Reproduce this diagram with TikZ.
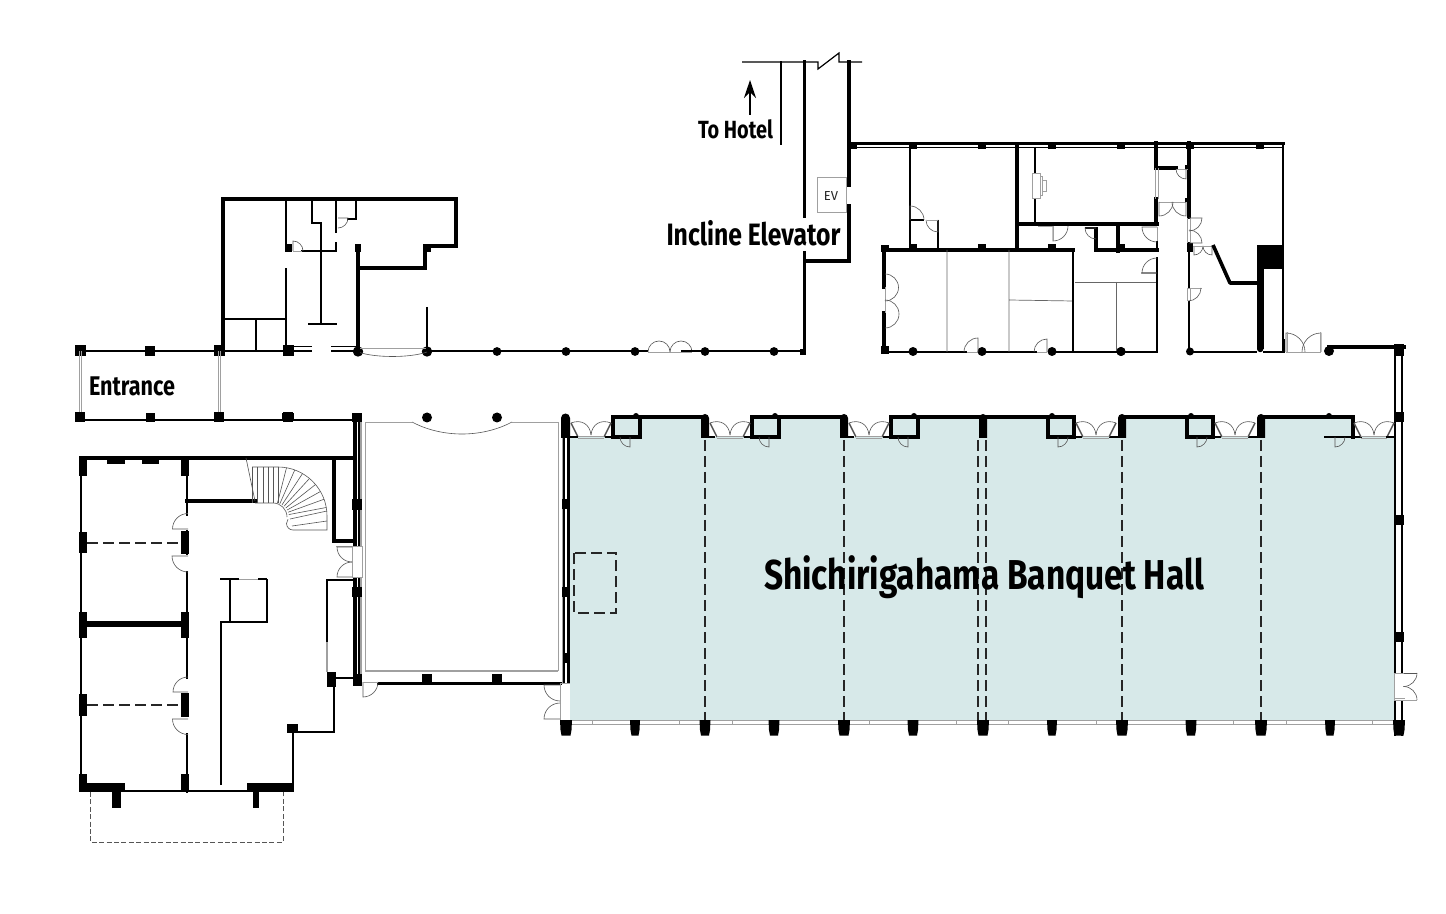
\documentclass[tikz,border=0pt]{standalone}
\usepackage{fontspec}
\setmainfont{Fira Sans}[FakeStretch=0.8]
\usetikzlibrary{arrows.meta,calc}
\definecolor{hall}{HTML}{D7E9E9}
\definecolor{grayl}{HTML}{A0A0A0}
\definecolor{doorc}{HTML}{555555}
\tikzset{
 la/.style={draw=black,line width=.6pt},
 lb/.style={draw=black,line width=1pt},
 lc/.style={draw=black,line width=1.4pt,line cap=rect},
 ld/.style={draw=black,line width=1.9pt,line cap=rect},
 gr/.style={draw=grayl,line width=.45pt},
 grt/.style={draw=grayl,line width=.9pt},
 doorl/.style={draw=doorc,line width=.3pt},
 dashw/.style={draw=black!85,line width=.8pt,dash pattern=on 5.5pt off 2.5pt},
 label/.style={inner sep=0pt,text=black,font=\bfseries},
}
% door: centre x, centre y, leaf angle, closing angle, radius (angles clockwise on the page)
\newcommand\dor[5]{\draw[doorl] (#1,#2) -- ++(#3:#5) arc (#3:#4:#5);}
\newcommand\blk[4]{\fill[black] (#1,#2) rectangle (#3,#4);}
\newcommand\sq[3]{\fill[black] (#1-#3/2,#2-#3/2) rectangle (#1+#3/2,#2+#3/2);}
\newcommand\rnd[3]{\fill[black] (#1,#2) circle (#3);}
\newcommand\ddoor[1]{%
 \draw[doorl] (#1-20,423) .. controls (#1-10,419) and (#1-1,424) .. (#1,435);
 \draw[doorl] (#1+20,423) .. controls (#1+10,419) and (#1+1,424) .. (#1,435);
 \draw[draw=doorc,line width=.7pt] (#1-20,423) -- (#1-13,437);
 \draw[draw=doorc,line width=.7pt] (#1+20,423) -- (#1+13,437);
 \draw[gr] (#1-13,436.5) -- (#1+13,436.5);
 \draw[gr] (#1-13,438) -- (#1+13,438);
}
\newcommand\hcol[1]{%
 \fill[black] (#1-4,438) -- (#1-4,418) arc (180:360:4) -- (#1+4,438) -- cycle;}
\newcommand\bcol[2]{\fill[black] (#1-#2,720) -- (#1+#2,720) -- (#1+#2-.5,730) -- (#1+#2-1.5,735.5) -- (#1-#2+1.5,735.5) -- (#1-#2+.5,730) -- cycle;}
\begin{document}
\begin{tikzpicture}[x=.5pt,y=.5pt,yscale=-1]
\useasboundingbox (0,0) rectangle (1446,914);
\fill[white] (0,0) rectangle (1446,914);
% ---------- hall fill
\fill[hall] (570,437) rectangle (1394,720);
\foreach \X in {566,705,844} \fill[hall] (\X+47,418) rectangle (\X+139,437);
\foreach \X in {983,1122,1261} \fill[hall] (\X,418) rectangle (\X+92,437);
% ---------- corridor north wall
\draw[lb] (80,351) -- (293,351);
\draw[la] (293,346.5) -- (312,346.5) (293,351) -- (312,351);
\draw[la] (331,346.5) -- (358,346.5) (331,351) -- (358,351);
\draw[lb] (427,351) -- (648,351);
\draw[gr] (648,352) -- (692,352);
\draw[doorl] (648,352) arc (180:360:11);
\draw[doorl] (670,352) arc (180:360:11);
\draw[lb] (692,351.5) -- (805,351.5);
\blk{681}{350}{692}{352.5}
\foreach \x/\s in {80/11,150/10,219/11,288/11} {\sq{\x}{351}{\s}}
\foreach \x/\r in {358/5.2,427/5.2,497/4.4,566/4.4,635/4.4,705/4.4,774/4.4} {\rnd{\x}{351.5}{\r}}
\blk{800}{349}{806}{355}
\draw[gr] (358,348) -- (427,348);
\draw[doorl] (358,352) .. controls (375,358) and (410,358) .. (427,352);
\draw[lb] (427,307) -- (427,351);
% entrance
\draw[gr] (79,351) -- (79,420) (81.5,351) -- (81.5,420);
\draw[gr] (218,351) -- (218,420) (220.5,351) -- (220.5,420);
\draw[lb] (80,420) -- (354,420);
\foreach \x/\s in {80/10,150/9,219/10,288/10} {\sq{\x}{417.5}{\s}}
\blk{282}{413}{294}{421}
\blk{352}{413}{362}{422}
\node[label] (entrance) at (132,386) {\resizebox{43pt}{!}{\fontsize{11}{12}\selectfont Entrance}};
% ---------- top-left building
\draw[ld] (223,351) -- (223,199) -- (456,199) -- (456,246) -- (425,246) -- (425,268) -- (358,268);
\draw[ld] (358,249) -- (358,351);
\blk{355}{244.5}{361}{252}
\blk{424}{245}{431}{252}
\draw[lc] (286,199) -- (286,250);
\blk{284.5}{244}{292}{252}
\draw[lc] (286,269) -- (286,351);
\draw[lc] (223,319) -- (286,319);
\draw[lc] (256,319) -- (256,351);
\draw[lb] (312,199) -- (312,223) -- (321,223);
\draw[lc] (321,223) -- (321,324);
\draw[lc] (309,324) -- (336,324);
\draw[lc] (302,251) -- (336,251) -- (336,243);
\draw[lc] (336,199) -- (336,232);
\draw[lc] (356,199) -- (356,219) -- (348,219);
\draw[gr] (293,251) -- (302,251);
\dor{293}{251}{270}{360}{10}
\dor{338}{218}{0}{90}{10}
% ---------- To Hotel and elevator shaft
\draw[la] (742,62) -- (818,62) -- (818,69) -- (839,53) -- (839,62) -- (862,62);
\draw[lc] (781,62) -- (781,144);
\draw[ld] (804.5,62) -- (804.5,216);
\draw[ld] (804.5,253) -- (804.5,352);
\draw[ld] (849,62) -- (849,185);
\draw[ld] (849,206) -- (849,261) -- (807,261);
\draw[line width=.7pt,-{Stealth[length=9pt,width=6pt]}] (750,115) -- (750,80);
\draw[grayl,line width=.5pt] (817,178) rectangle (846,213);
\node[inner sep=0pt,text=black!85] (ev) at (831,196) {\fontsize{6.5}{7}\selectfont\addfontfeature{FakeStretch=1}EV};
\node[label] (tohotel) at (735.5,129.5) {\resizebox{37.5pt}{!}{\fontsize{11}{12}\selectfont To Hotel}};
\node[label] (incline) at (753.5,233.5) {\resizebox{87pt}{!}{\fontsize{13}{14}\selectfont Incline Elevator}};
% ---------- north-east block
\draw[ld] (849,143.5) -- (1283,143.5);
\draw[la] (849,147.5) -- (1283,147.5);
\foreach \x in {853,913,982,1052,1121,1190,1260} {\blk{\x-4}{143}{\x+4}{149}}
\draw[lc] (1283,143) -- (1283,352);
\draw[lb] (910,147) -- (910,250);
\draw[lb] (910,220) -- (924,220);
\draw[lb] (938,220) -- (938,250);
\draw[gr] (927,220) -- (938,220);
\dor{910}{220}{270}{360}{14}
\dor{938}{220}{90}{180}{12}
\draw[ld] (884,250) -- (1073,250);
\foreach \x in {913,982,1052,1121} {\blk{\x-4}{244}{\x+4}{250}}
\blk{881}{245}{889}{252}
\blk{881}{346}{889}{354}
\draw[ld] (884,250) -- (884,287);
\draw[ld] (884,313) -- (884,352);
\draw[gr] (885,287) -- (885,313);
\draw[doorl] (885,274) arc (270:450:13.5);
\draw[doorl] (885,300) arc (270:450:14);
\draw[lb] (884,352) -- (967,352);
\draw[gr] (967,352) -- (978,352);
\draw[lb] (982,352) -- (1037,352);
\draw[gr] (1037,352) -- (1047,352);
\draw[lb] (1050,352) -- (1157,352);
\foreach \x in {913,982,1052,1121} {\rnd{\x}{351.5}{4.5}}
\dor{978}{352}{270}{180}{14}
\dor{1047}{352}{270}{180}{13}
\draw[draw=black!60,line width=.35pt] (947,250) -- (947,352) (1009,250) -- (1009,352) (1009,300) -- (1073,301);
\draw[draw=black!60,line width=.35pt] (1075,282) -- (1157,282) (1116,282) -- (1116,351);
\draw[lc] (1073,250) -- (1073,351);
\draw[ld] (1017,147) -- (1017,250);
\draw[ld] (1017,224) -- (1157,224);
\draw[lb] (1035,147) -- (1035,224);
\fill[white] (1032,173) rectangle (1040,198);
\draw[gr] (1032,173) rectangle (1040,198) (1042,180) rectangle (1046,191) (1040,176) -- (1042,176) -- (1042,195) -- (1040,195);
\draw[ld] (1156,143) -- (1156,168) -- (1176,168);
\draw[ld] (1156,199) -- (1156,224);
\draw[ld] (1118,224) -- (1118,251);
\draw[ld] (1096,250) -- (1157,250);
\draw[ld] (1096,250) -- (1096,229);
\draw[lb] (1085,228) -- (1096,228);
\draw[gr] (1157,227) -- (1157,242);
\draw[lc] (1157,242) -- (1157,250);
\draw[lc] (1157,258) -- (1157,272);
\draw[grt] (1141,273) -- (1157,273);
\draw[lc] (1157,273) -- (1157,352);
\blk{1116.5}{245}{1125}{251}
\dor{1157}{227}{180}{90}{15}
\dor{1157}{273}{180}{270}{15}
\dor{1053}{226}{90}{0}{15}
\dor{1096}{228}{180}{90}{11}
\draw[gr] (1038,226) -- (1053,226) (1053,226) -- (1053,240);
\rnd{1121}{351.5}{4.5}
% service block east
\draw[ld] (1189,143) -- (1189,217);
\draw[gr] (1188,169) -- (1176,169);
\draw[gr] (1187,218) -- (1187,243) (1190,218) -- (1190,243);
\draw[lc] (1189,243) -- (1189,352);
\blk{1187}{243}{1193}{252}
\blk{1185}{165}{1191}{169}
\blk{1185}{198}{1191}{202}
\draw[gr] (1159,202) -- (1186,202);
\draw[gr] (1155,168) -- (1155,199) (1158,168) -- (1158,199);
\dor{1186}{169}{90}{180}{10}
\dor{1159}{202}{90}{0}{14}
\dor{1186}{202}{90}{180}{14}
\dor{1189}{218}{0}{90}{13}
\dor{1189}{243}{0}{-90}{13}
\dor{1194}{246}{90}{0}{9}
\dor{1212}{246}{90}{180}{9}
\draw[gr] (1193,246) -- (1213,246);
\fill[white] (1187,288) rectangle (1191,301);
\draw[gr] (1187.5,288) -- (1187.5,301) (1190.5,288) -- (1190.5,301) (1187,288) -- (1202,288);
\draw[doorl] (1188,301) arc (90:0:13);
\draw[la] (1190,352) -- (1257,352);
\rnd{1190}{351.5}{4}
\draw[line width=1.8pt,line join=bevel] (1213,245) -- (1230,283) -- (1257,283);
\blk{1257}{245}{1283}{269}
\fill[black] (1257,245) rectangle (1263.5,349);
\fill[black] (1260.2,349) circle (3.2);
\draw[la] (1263,352) -- (1283,352);
\draw[lc] (1283.5,340) -- (1283.5,352);
\dor{1286}{352}{270}{360}{19}
\dor{1321}{352}{270}{180}{19}
\draw[gr] (1286,352) -- (1321,352) (1287,352) -- (1287,332) (1320,352) -- (1320,332);
% ---------- east wall
\rnd{1329}{351}{5}
\draw[ld] (1329,347) -- (1404,347);
\draw[lc] (1395,347) -- (1395,672);
\draw[lc] (1402,347) -- (1402,672);
\draw[lc] (1395,701) -- (1395,735);
\draw[lc] (1402,701) -- (1402,735);
\blk{1393.5}{344}{1404}{356}
\foreach \y in {417,520,637} {\blk{1393.5}{\y-5}{1404}{\y+5}}
\draw[gr] (1394,673) -- (1394,700) -- (1417,700) (1394,673) -- (1404,673) (1394,698) -- (1405,698);
\draw[doorl] (1404,673) -- (1417,673);
\draw[doorl] (1417,673) arc (0:90:13.5);
\draw[doorl] (1417,700) arc (0:-90:13.5);
% ---------- lobby
\draw[gr] (412,422) -- (365,422) -- (365,671) (558,671) -- (558,422) -- (512,422);
\draw[grt] (365,671) -- (558,671);
\draw[doorl] (412,422) .. controls (442,438) and (482,438) .. (512,422);
\rnd{427}{417.5}{5}
\rnd{497}{417.5}{5}
\draw[lc] (378,683.5) -- (561,683.5);
\blk{422}{674}{432}{683}
\blk{492}{674}{502}{683}
\dor{363}{682}{90}{0}{15}
\draw[gr] (363,682) -- (378,682);
% west wall of lobby
\foreach \a/\b in {422/546,577/676} {
 \fill[black] (352.5,\a) rectangle (356.5,\b);
 \fill[black] (357.5,\a) rectangle (359.5,\b);
 \draw[grt] (361,\a) -- (361,\b);
}
\blk{352}{499}{362}{510}
\blk{352}{587}{362}{597}
\blk{352.5}{674}{362}{686}
% ---------- lower-left building
\draw[ld] (81,458) -- (354,458);
\draw[lc] (81,458) -- (81,790);
\draw[lc] (80,791) -- (293,791);
\foreach \a/\b in {458/515,531/554,572/678,734/792} {\draw[lc] (187,\a) -- (187,\b);}
\blk{79}{458}{87}{476}
\blk{107}{458}{125}{464}
\blk{142}{458}{159}{464}
\blk{79}{532}{87}{553}
\blk{79}{612}{87}{638}
\blk{79}{694}{87}{716}
\blk{79}{774}{87}{792}
\blk{181}{458}{189}{476}
\blk{181}{531}{189}{554}
\blk{181}{612}{189}{638}
\blk{181}{693}{189}{717}
\blk{181}{774}{189}{792}
\blk{79}{783}{125}{792}
\blk{247}{783}{293}{792}
\blk{112}{792}{121}{808}
\blk{253}{792}{259}{808}
\draw[doorl,dash pattern=on 2.5pt off 1.2pt] (90,792) -- (90,842) -- (283,842) -- (283,792);
\draw[dashw] (87,543) -- (181,543);
\draw[dashw] (87,705) -- (181,705);
\draw[line width=3pt] (87,624) -- (181,624);
\dor{188}{529}{180}{270}{15.5}
\dor{188}{556}{180}{90}{16}
\dor{188}{692}{180}{270}{15}
\dor{188}{719}{180}{90}{15.5}
\draw[ld] (187,501) -- (255,501);
% stair
\draw[doorl] (246,458) -- (255,501);
\draw[doorl] (252,467) -- (278,467) arc (-90:0:49) -- (327,530) -- (293,530) arc (90:220:6.5);
\draw[doorl] (255,503) -- (273,503) arc (-90:0:14) -- (287,517);
\foreach \x in {252,257,263,268,273,278} {\draw[doorl] (\x,467) -- (\x,503);}
\foreach \a in {-80,-70,...,-10} {\draw[doorl] ($(275,517)+(\a:14)$) -- ($(278,516)+(\a:49)$);}
\draw[doorl] (290,519) -- (327,511);
\draw[doorl] (292,526) -- (327,521);
\draw[ld] (334,458) -- (334,541) -- (354,541);
\draw[gr] (336,546) -- (352,546) (352,546) rectangle (362,577);
\dor{352}{547}{180}{90}{15}
\dor{352}{577}{180}{270}{15}
\draw[lc] (327,642) -- (327,580) -- (353,580);
\draw[grt] (327,642) -- (327,672);
\blk{326.5}{672}{336}{687}
\draw[lc] (336,678) -- (354,678);
\draw[lc] (334,687) -- (334,732) -- (293,732) -- (293,791);
\blk{287}{724}{298}{733}
\draw[lb] (221,785) -- (221,622) -- (267,622) -- (267,579);
\draw[la] (230,579) -- (230,622);
\draw[la] (220,579) -- (239,579) (258,579) -- (267,579);
\draw[gr] (239,579) -- (258,579);
% ---------- hall
\draw[line width=.9pt,draw=black] (564,438) -- (564,683);
\fill[black] (566.5,438) rectangle (570,683);
\draw[gr] (562,438) -- (562,683);
\blk{561.5}{499}{570}{509}
\blk{561.5}{587}{570}{597}
\blk{564}{653}{570}{663}
\fill[black] (561,438) -- (561,418) arc (180:360:4.5) -- (570,438) -- cycle;
\draw[gr] (560,683) -- (570,683) (560,683) -- (560,720) -- (570,720);
\dor{560}{685}{180}{90}{16}
\dor{560}{719}{180}{270}{16}
\foreach \X in {566,705,844} {
 \draw[ld] (\X+139,417) -- (\X+47,417) -- (\X+47,437) -- (\X+74,437) -- (\X+74,417);
 \draw[lc] (\X+40,437) -- (\X+47,437);
 \fill[black] (\X+70,416) circle (3);
 \ddoor{\X+25}
 \dor{\X+64}{437}{90}{180}{10}
}
\foreach \X in {705,844,983,1122,1261} {\hcol{\X}}
\foreach \X in {705,844} {\draw[lc] (\X,437) -- (\X+9,437);}
\draw[lc] (570,437) -- (577,437);
\foreach \X in {983,1122} {
 \draw[ld] (\X,417) -- (\X+91,417) -- (\X+91,437) -- (\X+65,437) -- (\X+65,417);
 \draw[lc] (\X+91,437) -- (\X+98,437);
 \draw[lc] (\X+127,437) -- (\X+139,437);
 \fill[black] (\X+69,416) circle (3);
 \ddoor{\X+113}
 \dor{\X+75}{437}{90}{0}{10}
}
\draw[ld] (1261,417) -- (1353,417) -- (1353,437);
\draw[lc] (1325,437) -- (1361,437);
\fill[black] (1329,416) circle (3);
\ddoor{1374}
\dor{1335}{437}{90}{0}{10}
\draw[lc] (1387,437) -- (1394,437);
% movable walls
\foreach \x in {705,844,978,986,1122,1261} {\draw[dashw] (\x,440) -- (\x,720);}
\draw[draw=black!85,line width=.8pt,dash pattern=on 5.5pt off 2.5pt] (574,553) rectangle (616,613);
% glazing, south side
\draw[gr] (570,720.5) -- (1394,720.5) (570,724) -- (1394,724);
\foreach \x in {592,679,732,869,956,1008,1096,1233,1286,1372} {\draw[gr] (\x,720.5) -- (\x,724);}
\foreach \x/\w in {566/6,635/5,705/5.5,774/5.5,844/6,913/5.5,983/6,1052/5,1122/6,1191/5.5,1261/6,1330/5,1399/6} {\bcol{\x}{\w}}
\node[label] (hallname) at (984,577.5) {\resizebox{220pt}{!}{\fontsize{18}{20}\selectfont Shichirigahama Banquet Hall}};
\end{tikzpicture}
\end{document}
